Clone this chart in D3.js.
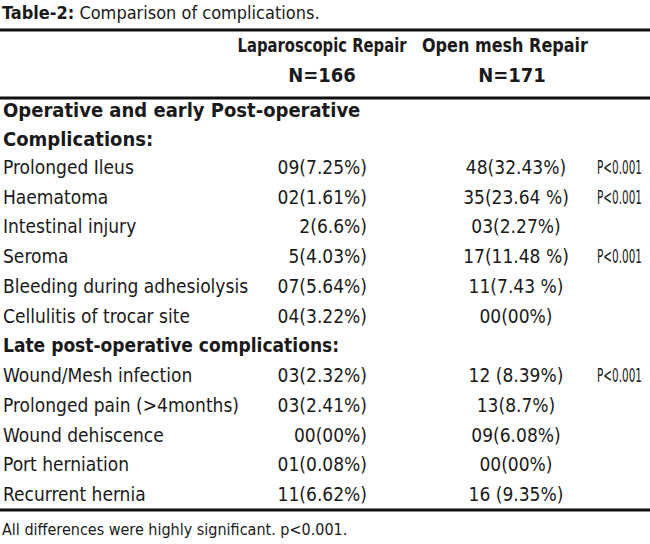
<!DOCTYPE html>
<html><head><meta charset="utf-8">
<script src="https://cdn.jsdelivr.net/npm/d3@7"></script>
<style>
body{margin:0;background:#fff}
text{font-family:"Liberation Sans Narrow","DejaVu Sans Condensed",sans-serif;fill:#1a1a1a}
</style></head><body>
<svg id="c" width="650" height="544"></svg>
<script>
// rows of the table
const complications = ["Prolonged Ileus","Haematoma","Intestinal  injury","Seroma","Bleeding during adhesiolysis","Cellulitis of trocar site",
  null,"Wound/Mesh infection","Prolonged pain  (>4months)","Wound dehiscence","Port herniation","Recurrent hernia"];
const laparoscopic = ["09(7.25%)","02(1.61%)","2(6.6%)","5(4.03%)","07(5.64%)","04(3.22%)",null,"03(2.32%)","03(2.41%)","00(00%)","01(0.08%)","11(6.62%)"];
const openMesh = ["48(32.43%)","35(23.64 %)","03(2.27%)","17(11.48 %)","11(7.43 %)","00(00%)",null,"12 (8.39%)","13(8.7%)","09(6.08%)","00(00%)","16 (9.35%)"];
const pValues = ["P<0.001","P<0.001","","P<0.001","","",null,"P<0.001","","","",""];

const svg = d3.select("#c");
const y = d3.scaleLinear().domain([0, 11]).range([167, 494]);

// title
const t = svg.append("text").attr("x", 2).attr("y", 19).style("font-size", "18px");
t.append("tspan").attr("font-weight", "bold").text("Table-2:");
t.append("tspan").text(" Comparison of complications.");

// rules
[[30, 3], [98, 3], [510, 3]].forEach(([yy, w]) => {
  svg.append("rect").attr("x", 0).attr("y", yy - w / 2).attr("width", 650).attr("height", w).attr("fill", "#111");
});

// header
const hdr = [["Laparoscopic  Repair", 322, 52, 169], ["N=166", 322, 82, 0], ["Open mesh Repair", 505, 52, 166], ["N=171", 512, 82, 0],
             ["Operative and early Post-operative", 3, 117, 0], ["Complications:", 3, 146, 0]];
hdr.forEach(([s, x, yy, len], i) => {
  const tx = svg.append("text").attr("x", x).attr("y", yy).attr("text-anchor", i < 4 ? "middle" : "start")
    .attr("font-weight", "bold").style("font-size", "20px").text(s);
  if (len) tx.attr("textLength", len).attr("lengthAdjust", "spacingAndGlyphs");
});

// body
const g = svg.selectAll("g.row").data(complications).join("g").attr("class", "row")
  .attr("transform", (d, i) => `translate(0,${y(i) + 7})`);
g.append("text").attr("x", 3).style("font-size", "19px")
  .attr("font-weight", d => d === null ? "bold" : null)
  .text(d => d === null ? "Late post-operative complications:" : d);
g.append("text").attr("x", 367).attr("text-anchor", "end").style("font-size", "19px").text((d, i) => laparoscopic[i] || "");
g.append("text").attr("x", 516).attr("text-anchor", "middle").style("font-size", "19px").text((d, i) => openMesh[i] || "");
g.filter((d, i) => pValues[i]).append("text").attr("x", 597).style("font-size", "19px")
  .attr("textLength", 45).attr("lengthAdjust", "spacingAndGlyphs").text((d, i) => pValues[complications.indexOf(d)]);

// footnote
svg.append("text").attr("x", 2).attr("y", 535).style("font-size", "16px").text("All differences were highly significant. p<0.001.");
</script></body></html>
